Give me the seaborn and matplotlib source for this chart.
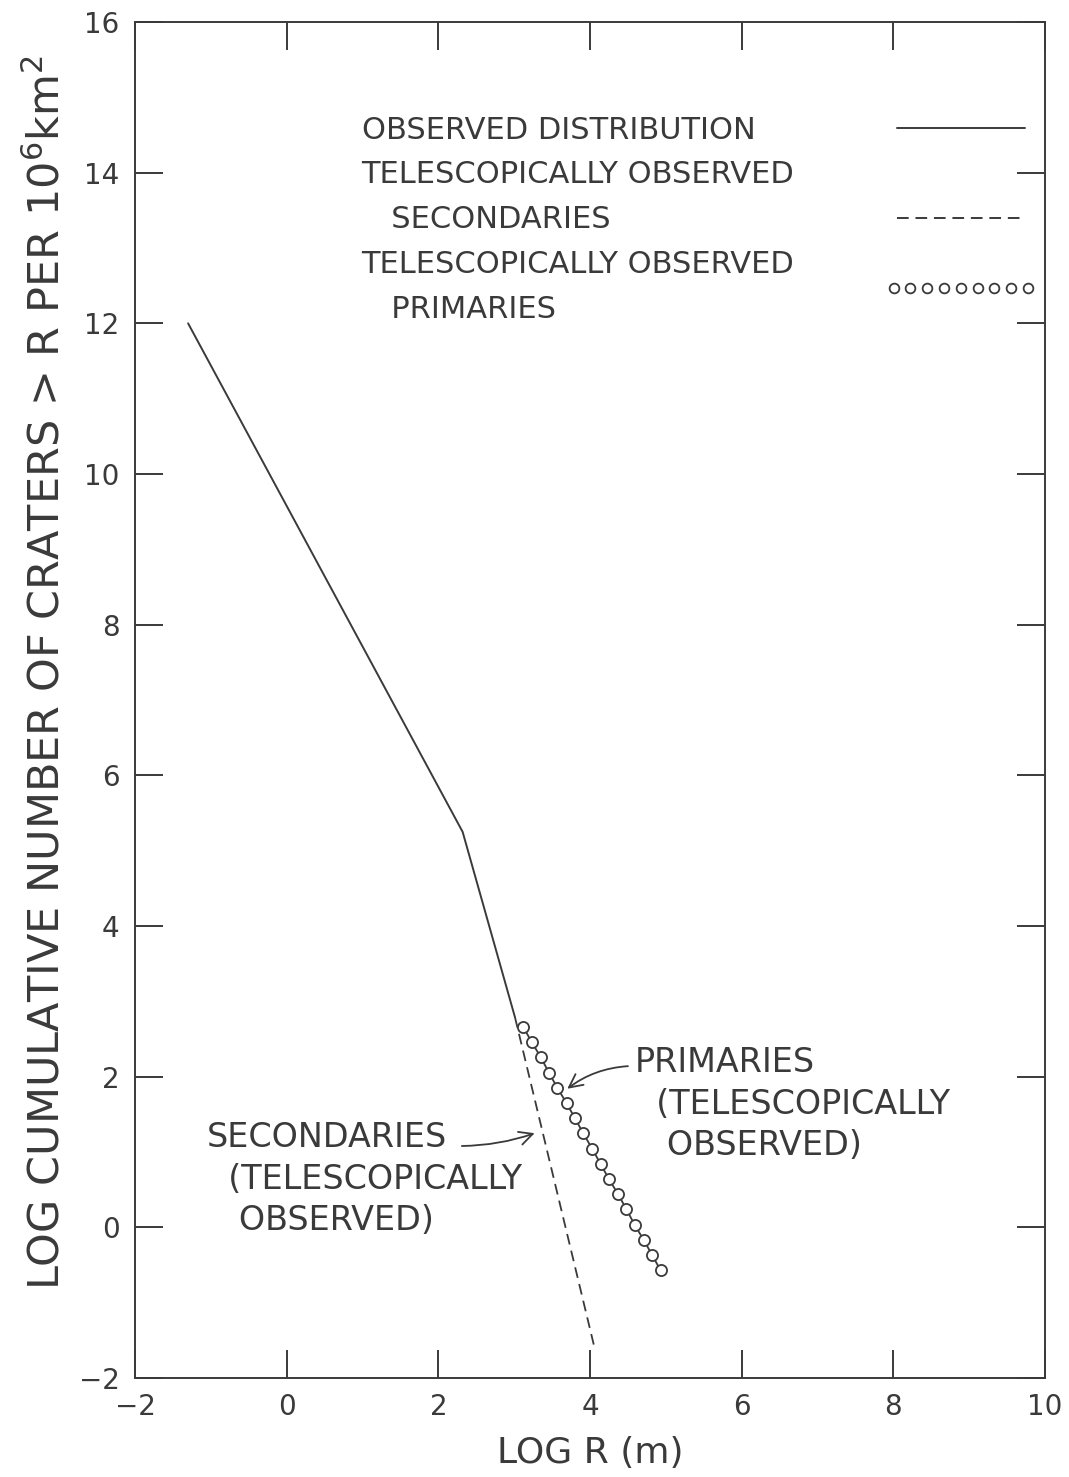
import matplotlib
matplotlib.use("Agg")
import pandas as pd
import matplotlib.pyplot as plt
import seaborn as sns
from matplotlib.lines import Line2D
from matplotlib.legend_handler import HandlerLine2D

# values (log R in m, log cumulative number per 10^6 km^2)
observed_x = [-1.30, 2.32, 3.01]
observed_y = [12.00, 5.25, 2.79]

secondaries_x = [3.01, 4.05]
secondaries_y = [2.79, -1.56]

primaries_x = [3.12, 3.23, 3.35, 3.46, 3.57, 3.69, 3.80, 3.91, 4.03,
               4.14, 4.25, 4.37, 4.48, 4.59, 4.71, 4.82, 4.93]
primaries_y = [2.66, 2.46, 2.26, 2.05, 1.85, 1.65, 1.45, 1.25, 1.04,
               0.84, 0.64, 0.44, 0.24, 0.03, -0.17, -0.37, -0.57]

x_ticks = [-2, 0, 2, 4, 6, 8, 10]
y_ticks = [-2, 0, 2, 4, 6, 8, 10, 12, 14, 16]

legend_labels = ["OBSERVED DISTRIBUTION",
                 "TELESCOPICALLY OBSERVED",
                 "   SECONDARIES",
                 "TELESCOPICALLY OBSERVED\n   PRIMARIES"]

ink = "#3a3a3a"

sns.set_theme(style="ticks")
plt.rcParams["font.family"] = ["DejaVu Sans"]
plt.rcParams["text.color"] = ink
plt.rcParams["axes.labelcolor"] = ink
plt.rcParams["xtick.color"] = ink
plt.rcParams["ytick.color"] = ink

fig = plt.figure(figsize=(10.69, 14.77), dpi=100)
ax = fig.add_axes([0.1263, 0.0670, 0.9776 - 0.1263, 0.9851 - 0.0670])

observed = pd.DataFrame({"x": observed_x, "y": observed_y})
secondaries = pd.DataFrame({"x": secondaries_x, "y": secondaries_y})
primaries = pd.DataFrame({"x": primaries_x, "y": primaries_y})

sns.lineplot(data=observed, x="x", y="y", sort=False, estimator=None,
             color=ink, lw=1.4, ax=ax)
sns.lineplot(data=secondaries, x="x", y="y", sort=False, estimator=None,
             color=ink, lw=1.3, ax=ax)
ax.lines[-1].set_dashes((6, 3.5))
sns.lineplot(data=primaries, x="x", y="y", sort=False, estimator=None,
             color=ink, lw=1.3, marker="o", markersize=8,
             markerfacecolor="white", markeredgecolor=ink,
             markeredgewidth=1.3, ax=ax)

ax.set_xlim(-2, 10)
ax.set_ylim(-2, 16)
ax.set_xticks(x_ticks)
ax.set_yticks(y_ticks)
ax.set_xticklabels([str(v).replace("-", "\u2212") for v in x_ticks])
ax.set_yticklabels([str(v).replace("-", "\u2212") for v in y_ticks])
ax.tick_params(direction="in", length=20, width=1.4, top=True, right=True,
               labelsize=20, pad=11)
for s in ax.spines.values():
    s.set_linewidth(1.4)
    s.set_color(ink)

ax.set_xlabel("LOG R (m)", fontsize=26)
ax.set_ylabel(r"LOG CUMULATIVE NUMBER OF CRATERS > R PER 10$^6$km$^2$",
              fontsize=31)
ax.xaxis.set_label_coords(0.5, -0.043)
ax.yaxis.set_label_coords(-0.073, 0.52)

# legend: text on the left, sample on the right
h_solid = Line2D([], [], color=ink, lw=1.4)
h_blank = Line2D([], [], linestyle="none")
h_dash = Line2D([], [], color=ink, lw=1.4, dashes=(6, 3.5))
h_circ = Line2D([], [], linestyle="none", marker="o", markersize=7,
                markerfacecolor="white", markeredgecolor=ink,
                markeredgewidth=1.3)
leg_fs = 22
pad_txt = 3.35
leg = ax.legend([h_solid, h_blank, h_dash, h_circ], legend_labels,
                handler_map={h_circ: HandlerLine2D(numpoints=9, marker_pad=-0.1)},
                loc="upper right", bbox_to_anchor=(0.978, 0.931),
                frameon=False, markerfirst=False, fontsize=leg_fs,
                handlelength=4.2, handletextpad=pad_txt, labelspacing=0.52,
                borderpad=0, borderaxespad=0)
leg.get_texts()[3].set_linespacing(1.68)

# make the label column left aligned
fig.canvas.draw()
renderer = fig.canvas.get_renderer()
widths = [t.get_window_extent(renderer).width * 72 / fig.dpi
          for t in leg.get_texts()]
rows = leg._legend_handle_box.get_children()[0].get_children()
for row, w in zip(rows, widths):
    row.sep = pad_txt * leg_fs + (max(widths) - w)

# annotations: text and arrows
ax.text(4.59, 0.96, "PRIMARIES\n  (TELESCOPICALLY\n   OBSERVED)",
        ha="left", va="baseline", fontsize=24, linespacing=1.32)
ax.text(-1.05, -0.035, "SECONDARIES\n  (TELESCOPICALLY\n   OBSERVED)",
        ha="left", va="baseline", fontsize=24, linespacing=1.32)
ax.annotate("", xy=(3.70, 1.84), xytext=(4.50, 2.14),
            arrowprops=dict(arrowstyle="->", color=ink, lw=1.3,
                            mutation_scale=24, shrinkA=0, shrinkB=0,
                            connectionstyle="arc3,rad=0.15"))
ax.annotate("", xy=(3.27, 1.25), xytext=(2.31, 1.08),
            arrowprops=dict(arrowstyle="->", color=ink, lw=1.3,
                            mutation_scale=24, shrinkA=0, shrinkB=0,
                            connectionstyle="arc3,rad=0.08"))

fig.savefig("out.png", dpi=100, facecolor="white")
